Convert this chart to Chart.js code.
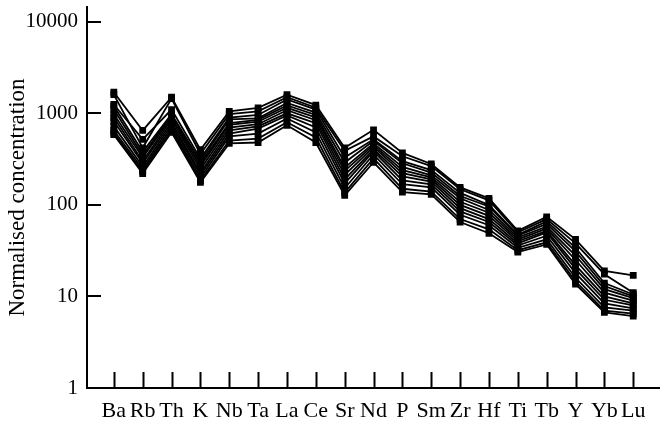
<!DOCTYPE html>
<html>
<head>
<meta charset="utf-8">
<script src="https://cdn.jsdelivr.net/npm/chart.js@4.4.1/dist/chart.umd.min.js"></script>
<style>
  html, body { margin: 0; padding: 0; background: #fff; }
  #wrap { width: 664px; height: 426px; }
</style>
</head>
<body>
<div id="wrap"><canvas id="c" width="664" height="426"></canvas></div>
<script>
const categories = ['Ba','Rb','Th','K','Nb','Ta','La','Ce','Sr','Nd','P','Sm','Zr','Hf','Ti','Tb','Y','Yb','Lu'];
const yTicks = [1, 10, 100, 1000, 10000];

const sample1  = [1700, 650, 1500, 400, 1050, 1150, 1600, 1230, 420, 660, 370, 280, 155, 118, 52, 74, 42, 19, 17];
const sample2  = [1600, 420, 1450, 360, 980, 1050, 1500, 1150, 390, 560, 340, 265, 148, 112, 50, 70, 38, 17.5, 11];
const sample3  = [1250, 520, 1100, 320, 900, 960, 1420, 1100, 330, 520, 300, 240, 135, 100, 47, 66, 34, 14, 10.5];
const sample4  = [1200, 380, 980, 300, 860, 880, 1300, 1020, 290, 500, 285, 225, 125, 96, 46, 62, 31, 13, 10];
const sample5  = [1100, 350, 950, 285, 780, 850, 1220, 960, 255, 470, 260, 210, 118, 88, 44, 58, 28, 12, 9.6];
const sample6  = [980, 330, 900, 265, 750, 810, 1150, 900, 235, 450, 240, 200, 108, 82, 42, 55, 25, 11, 9];
const sample7  = [900, 300, 860, 245, 700, 760, 1080, 840, 212, 430, 222, 190, 100, 76, 40, 52, 22, 10, 8.4];
const sample8  = [820, 285, 800, 225, 650, 720, 1000, 780, 190, 405, 205, 180, 92, 70, 38, 50, 20, 9.2, 8];
const sample9  = [720, 262, 750, 212, 600, 680, 950, 700, 172, 385, 185, 168, 85, 65, 36, 46, 18, 8.4, 7.4];
const sample10 = [650, 245, 700, 196, 560, 600, 880, 620, 152, 355, 168, 155, 78, 60, 34, 42, 16, 7.6, 7];
const sample11 = [610, 232, 660, 184, 505, 530, 800, 545, 136, 322, 150, 140, 70, 54, 32, 39, 14.6, 7, 6.5];
const sample12 = [585, 220, 620, 176, 470, 480, 740, 480, 127, 292, 138, 130, 65, 49, 30.5, 37, 13.6, 6.7, 6.1];

const samples = [sample1, sample2, sample3, sample4, sample5, sample6, sample7, sample8, sample9, sample10, sample11, sample12];

const datasets = samples.map(s => ({
  data: s.map((v, i) => ({ x: i, y: v })),
  borderColor: '#000',
  backgroundColor: '#000',
  borderWidth: 1.8,
  pointStyle: 'rect',
  pointRadius: 4.8,
  pointBorderWidth: 0,
  tension: 0,
  fill: false
}));

const inwardTicks = {
  id: 'inwardTicks',
  afterDatasetsDraw(chart) {
    const ctx = chart.ctx;
    const xs = chart.scales.x, ys = chart.scales.y;
    ctx.save();
    ctx.strokeStyle = '#000';
    ctx.lineWidth = 2;
    ctx.beginPath();
    categories.forEach((c, i) => {
      const px = Math.round(xs.getPixelForValue(i)) + 0.5;
      ctx.moveTo(px, ys.bottom);
      ctx.lineTo(px, ys.bottom - 16);
    });
    yTicks.forEach(v => {
      if (v === yTicks[0]) return;
      const py = Math.round(ys.getPixelForValue(v));
      ctx.moveTo(xs.left, py);
      ctx.lineTo(xs.left + 14, py);
    });
    ctx.stroke();
    ctx.restore();
  }
};

new Chart(document.getElementById('c'), {
  type: 'line',
  data: { datasets },
  plugins: [inwardTicks],
  options: {
    responsive: false,
    animation: false,
    layout: { padding: { top: 7, right: 0, bottom: 0, left: 0 } },
    plugins: { legend: { display: false }, tooltip: { enabled: false } },
    scales: {
      x: {
        type: 'linear',
        min: -0.93,
        max: 18.9,
        afterBuildTicks: s => { s.ticks = categories.map((c, i) => ({ value: i })); },
        afterFit: s => { s.height = 38; s.paddingLeft = 0; s.paddingRight = 0; },
        ticks: {
          autoSkip: false,
          maxRotation: 0,
          padding: 10,
          color: '#000',
          font: { family: 'Liberation Serif', size: 22 },
          callback: v => categories[v]
        },
        grid: { display: false, drawTicks: false },
        border: { display: true, color: '#000', width: 2 }
      },
      y: {
        type: 'logarithmic',
        min: 1,
        max: 14500,
        afterBuildTicks: s => { s.ticks = yTicks.map(v => ({ value: v })); },
        afterFit: s => { s.width = 87; s.paddingTop = 0; s.paddingBottom = 0; },
        ticks: {
          padding: 9,
          color: '#000',
          font: { family: 'Liberation Serif', size: 21 },
          callback: v => String(v)
        },
        grid: { display: false, drawTicks: false },
        border: { display: true, color: '#000', width: 2 },
        title: {
          display: true,
          text: 'Normalised concentration',
          color: '#000',
          font: { family: 'Liberation Serif', size: 23 },
          padding: { top: 4, bottom: 0 }
        }
      }
    }
  }
});
</script>
</body>
</html>
